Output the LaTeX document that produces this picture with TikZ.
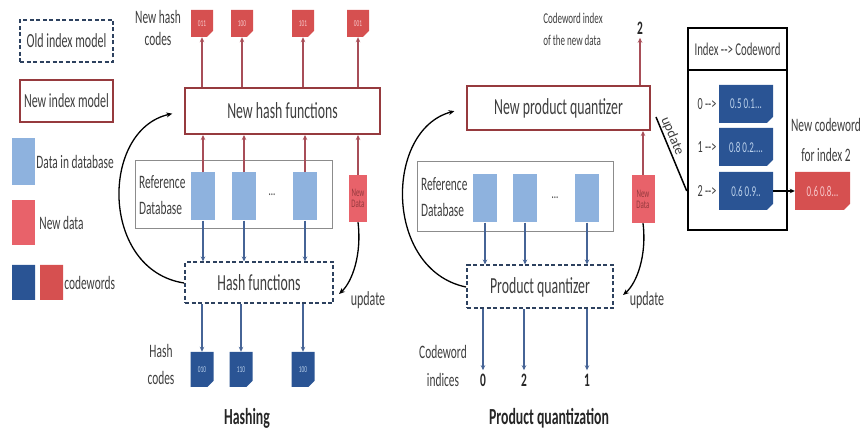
\documentclass[tikz,border=0pt]{standalone}
\usepackage{fontspec}
\setmainfont{Carlito}[FakeStretch=0.6]
\newfontfamily\updfont{Carlito}
\usetikzlibrary{arrows.meta,shapes.misc}
\definecolor{TextGray}{RGB}{62,62,62}
\definecolor{ArrowRed}{RGB}{168,78,88}
\definecolor{ArrowBlue}{RGB}{70,100,150}
\definecolor{DataBlue}{RGB}{142,178,222}
\definecolor{DataRed}{RGB}{232,98,106}
\definecolor{CodeBlue}{RGB}{42,84,148}
\definecolor{CodeRed}{RGB}{214,80,80}
\definecolor{OldBorder}{RGB}{45,65,95}
\definecolor{NewBorder}{RGB}{150,58,62}
\definecolor{DbBorder}{RGB}{140,140,140}

\begin{document}
\begin{tikzpicture}[x=1pt, y=-1pt,
    lbl/.style={text=TextGray, font=\fontsize{19}{26}\selectfont, align=center},
    boxlbl/.style={text=TextGray, font=\fontsize{23}{26}\selectfont},
    oldbox/.style={boxlbl, draw=OldBorder, line width=2pt, dash pattern=on 4pt off 2.5pt},
    newbox/.style={boxlbl, draw=NewBorder, line width=2pt},
    dbbox/.style={draw=DbBorder, line width=1pt},
    datasq/.style={fill=DataBlue, inner sep=0, minimum width=24, minimum height=48},
    newsq/.style={fill=DataRed, text=NewBorder, inner sep=0, align=center, font=\fontsize{11.5}{11}\selectfont},
    cw/.style={chamfered rectangle, chamfered rectangle corners=south east,
        chamfered rectangle xsep=3pt, inner sep=0, minimum width=22, minimum height=27,
        font=\fontsize{9}{9}\selectfont},
    bluecw/.style={cw, fill=CodeBlue, text=DataBlue!60!white},
    redcw/.style={cw, fill=CodeRed, text=DataRed!35!white},
    redarr/.style={draw=ArrowRed, line width=1.2pt, -{Stealth[length=5pt,width=4.5pt]}},
    bluearr/.style={draw=ArrowBlue, line width=1.2pt, -{Stealth[length=5pt,width=4.5pt]}},
    loop/.style={draw=black, line width=1.3pt, -{Stealth[length=6pt,width=5pt]}},
    title/.style={text=black!85, font=\fontsize{23}{26}\selectfont\bfseries}]

    \useasboundingbox (0,0) rectangle (863,438);

    % Leyenda
    \node[oldbox, minimum width=93, minimum height=42, font=\fontsize{20}{24}\selectfont] (legold) at (66.5,41) {Old index model};
    \node[newbox, minimum width=93, minimum height=42, font=\fontsize{20}{24}\selectfont] (legnew) at (66.5,101) {New index model};
    \node[datasq, minimum width=23, minimum height=47] (legdata) at (23.5,161.5) {};
    \node[lbl, anchor=west, inner sep=1pt] (legdatatxt) at (legdata.east) {Data in database};
    \node[newsq, minimum width=23, minimum height=45] (legnd) at (23.5,222.5) {};
    \node[lbl, anchor=west, inner sep=4pt] (legndtxt) at (legnd.east) {New data};
    \node[bluecw, minimum width=23, minimum height=35] (legcwb) at (23.5,282.5) {};
    \node[redcw, minimum width=23, minimum height=35] (legcwr) at (51.5,282.5) {};
    \node[lbl, anchor=west, inner sep=1pt] (legcwtxt) at (legcwr.east) {codewords};

    % Hashing
    \node[newbox, minimum width=195, minimum height=46] (nhf) at (282.5,111) {New hash functions};
    \node[dbbox, minimum width=197, minimum height=68] (refdb) at (233.5,195) {};
    \node[lbl, anchor=west, align=left, xshift=1pt] (refdbtxt) at (refdb.west) {Reference\\Database};
    \node[datasq] (d1) at (203,196.5) {};
    \node[datasq] (d2) at (244,196.5) {};
    \node[datasq] (d3) at (305,196.5) {};
    \node[lbl, font=\fontsize{15}{15}\selectfont] (dots) at (272,195) {...};
    \node[newsq, minimum width=18, minimum height=47] (nd) at (358,198.5) {New\\Data};
    \node[oldbox, minimum width=148, minimum height=41] (hf) at (259,283) {Hash functions};

    \node[lbl, font=\fontsize{19}{22}\selectfont] (nhctxt) at (158,28) {New hash\\codes};
    \foreach \x/\t [count=\i] in {202/011, 242/100, 303/101, 358/001}
        \node[redcw] (nc\i) at (\x,23.5) {\t};
    \foreach \i in {1,...,4}
        \draw[redarr] (nc\i |- nhf.north) -- (nc\i.south);
    \foreach \n in {d1,d2,d3,nd}
        \draw[redarr] (\n.north) -- (\n |- nhf.south);
    \foreach \n in {d1,d2,d3}
        \draw[bluearr] (\n.south) -- (\n |- hf.north);

    \node[lbl, font=\fontsize{19}{27}\selectfont] (hctxt) at (161,364) {Hash\\codes};
    \foreach \x/\t [count=\i] in {202/010, 241/110, 303/100}
        \node[bluecw, minimum width=23, minimum height=35] (hc\i) at (\x,369.5) {\t};
    \foreach \i in {1,2,3}
        \draw[bluearr] (hc\i |- hf.south) -- (hc\i.north);

    \draw[loop, shorten >=12pt] (hf.west) .. controls (100,270) and (100,130) .. (nhf.west);
    \coordinate (hfupd) at (339,294);
    \draw[loop] (nd.south) .. controls (362,255) and (352,282) .. (hfupd);
    \node[lbl, font=\fontsize{20}{24}\selectfont] (updhf) at (368,300) {update};
    \node[title] (hashtitle) at (247,418) {Hashing};

    % Product quantization
    \node[newbox, minimum width=183, minimum height=44] (npq) at (558.5,108) {New product quantizer};
    \node[dbbox, minimum width=196, minimum height=70] (refdbq) at (515,197) {};
    \node[lbl, anchor=west, align=left, xshift=1pt] (refdbqtxt) at (refdbq.west) {Reference\\Database};
    \node[datasq] (q1) at (485,198.5) {};
    \node[datasq] (q2) at (525,198.5) {};
    \node[datasq] (q3) at (587,198.5) {};
    \node[lbl, font=\fontsize{15}{15}\selectfont] (dotsq) at (555,198) {...};
    \node[newsq, minimum width=23, minimum height=48] (ndq) at (643,199) {New\\Data};
    \node[oldbox, minimum width=146, minimum height=43] (pq) at (540,287) {Product quantizer};

    \draw[redarr] (ndq.north) -- (ndq |- npq.south);
    \foreach \n in {q1,q2,q3}
        \draw[bluearr] (\n.south) -- (\n |- pq.north);

    \node[lbl, font=\fontsize{15}{22}\selectfont, align=left] (newixtxt) at (573,29) {Codeword index\\of the new data};
    \node[title, font=\fontsize{19}{22}\selectfont\bfseries] (newix) at (640,28) {2};
    \draw[redarr] (newix |- npq.north) -- (newix.south);

    \node[lbl, font=\fontsize{19}{28}\selectfont] (cwitxt) at (443,366) {Codeword\\indices};
    \foreach \x/\t [count=\i] in {483/0, 524/2, 587/1}
        \node[title, font=\fontsize{19}{22}\selectfont\bfseries] (ix\i) at (\x,380) {\t};
    \foreach \i in {1,2,3}
        \draw[bluearr] (ix\i |- pq.south) -- (ix\i.north);

    \draw[loop, shorten >=12pt] (pq.west) .. controls (384,270) and (384,130) .. (npq.west);
    \coordinate (pqupd) at (623,295);
    \draw[loop] (ndq.south) .. controls (647,255) and (637,283) .. (pqupd);
    \node[lbl, font=\fontsize{20}{24}\selectfont] (updpq) at (647,300) {update};
    \node[title] (pqtitle) at (549,418) {Product quantization};

    % Tabla de codewords
    \node[draw, line width=2.5pt, minimum width=99, minimum height=202] (tbl) at (737.5,129) {};
    \node[lbl, draw, line width=2.5pt, minimum width=99, minimum height=42, inner sep=1pt, font=\fontsize{18}{20}\selectfont] (tblhead) at (737.5,49) {Index -{}-> Codeword};
    \foreach \y/\l/\t [count=\i] in {104/0/{0.5 0.1...}, 147/1/{0.8 0.2....}, 191/2/{0.6 0.9..}} {
        \node[bluecw, minimum width=54, minimum height=38, font=\fontsize{15}{15}\selectfont] (row\i) at (746,\y) {\t};
        \node[lbl, font=\fontsize{17}{19}\selectfont] (rowlbl\i) at (707,\y) {\l\ -{}->};
    }
    \node[redcw, minimum width=55, minimum height=38, font=\fontsize{15}{15}\selectfont] (newcw) at (822.5,191) {0.6 0.8...};
    \node[lbl, font=\fontsize{19}{30}\selectfont] (newcwtxt) at (826,140) {New codeword\\for index 2};
    \draw[line width=1.3pt, -{Stealth[length=5pt,width=4.5pt]}] (row3.east) -- (newcw.west);

    \coordinate (updstart) at (656,117);
    \draw[line width=1.5pt] (updstart) -- (tbl.west |- row3)
        node[pos=0.3, sloped, above=1pt, inner sep=0pt, text=TextGray, font=\updfont\fontsize{14}{16}\selectfont] (updtbl) {update};

\end{tikzpicture}
\end{document}
